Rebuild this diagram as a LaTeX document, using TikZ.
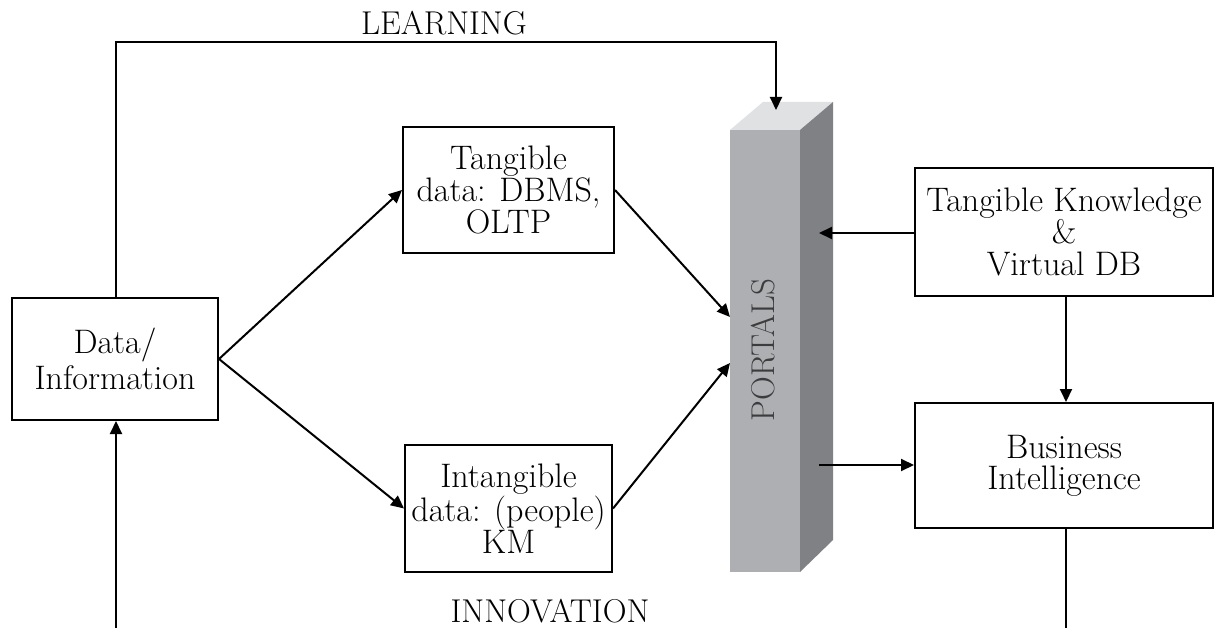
\documentclass[tikz,border=0pt]{standalone}
\usetikzlibrary{arrows.meta}
\definecolor{frontgray}{HTML}{AEAFB3}
\definecolor{sidegray}{HTML}{808185}
\definecolor{topgray}{HTML}{E0E1E3}
\definecolor{portaltext}{HTML}{3C3C3C}
\begin{document}
\begin{tikzpicture}[x=1pt,y=-1pt,
  box/.style={draw, line width=2pt, align=center, inner sep=0pt},
  boxfont/.style={font=\fontsize{34}{#1}\selectfont},
  conn/.style={line width=2pt},
  arr/.style={conn, -{Triangle[length=13pt,width=12pt]}},
  lab/.style={font=\fontsize{33}{34}\selectfont}
]
\useasboundingbox (0,0) rectangle (1215,628);
\fill[white] (0,0) rectangle (1215,628);

% pillar
\fill[topgray] (730,130) -- (763,102) -- (833,102) -- (800,130) -- cycle;
\fill[sidegray] (800,130) -- (833,102) -- (833,540) -- (800,572) -- cycle;
\node[fill=frontgray, minimum width=70pt, minimum height=442pt, inner sep=0pt] (portal) at (765,351) {};
\node[lab, rotate=90, text=portaltext] (portallabel) at (763,350) {PORTALS};

\coordinate (ptop) at (776,110);
\coordinate (pin1) at (730,317);
\coordinate (pin2) at (730,363);
\coordinate (pside) at (819,233);
\coordinate (pout) at (819,465);

% boxes
\node[box, boxfont=36, minimum width=206pt, minimum height=122pt] (data) at (115,359) {Data/\\Information};
\node[box, boxfont=32, minimum width=211pt, minimum height=126pt] (tang) at (508.5,190) {Tangible\\data: DBMS,\\OLTP};
\node[box, boxfont=32, minimum width=207pt, minimum height=127pt] (intang) at (508.5,508.5) {Intangible\\data: (people)\\KM};
\node[box, boxfont=32, minimum width=298pt, minimum height=128pt] (tk) at (1064,232) {Tangible Knowledge\\\&\\Virtual DB};
\node[box, boxfont=31, minimum width=298pt, minimum height=125pt] (bi) at (1064,465.5) {Business\\Intelligence};

% labels
\node[lab] (learning) at (444,23) {LEARNING};
\node[lab] (innovation) at (550,611) {INNOVATION};

\coordinate (topleft) at (116,42);
\coordinate (topright) at (776,42);
\coordinate (botleft) at (116,628);
\coordinate (botright) at (1066,628);

% connectors
\draw[arr] (data.north -| topleft) -- (topleft) -- (topright) -- (ptop);
\draw[arr] (botleft) -- (data.south -| botleft);
\draw[arr] (data.east) -- (tang.west);
\draw[arr] (data.east) -- (intang.west);
\draw[arr] (tang.east) -- (pin1);
\draw[arr] (intang.east) -- (pin2);
\draw[arr] (tk.west |- pside) -- (pside);
\draw[arr] (pout) -- (bi.west |- pout);
\draw[arr] (tk.south -| botright) -- (bi.north -| botright);
\draw[conn] (bi.south -| botright) -- (botright);
\end{tikzpicture}
\end{document}
